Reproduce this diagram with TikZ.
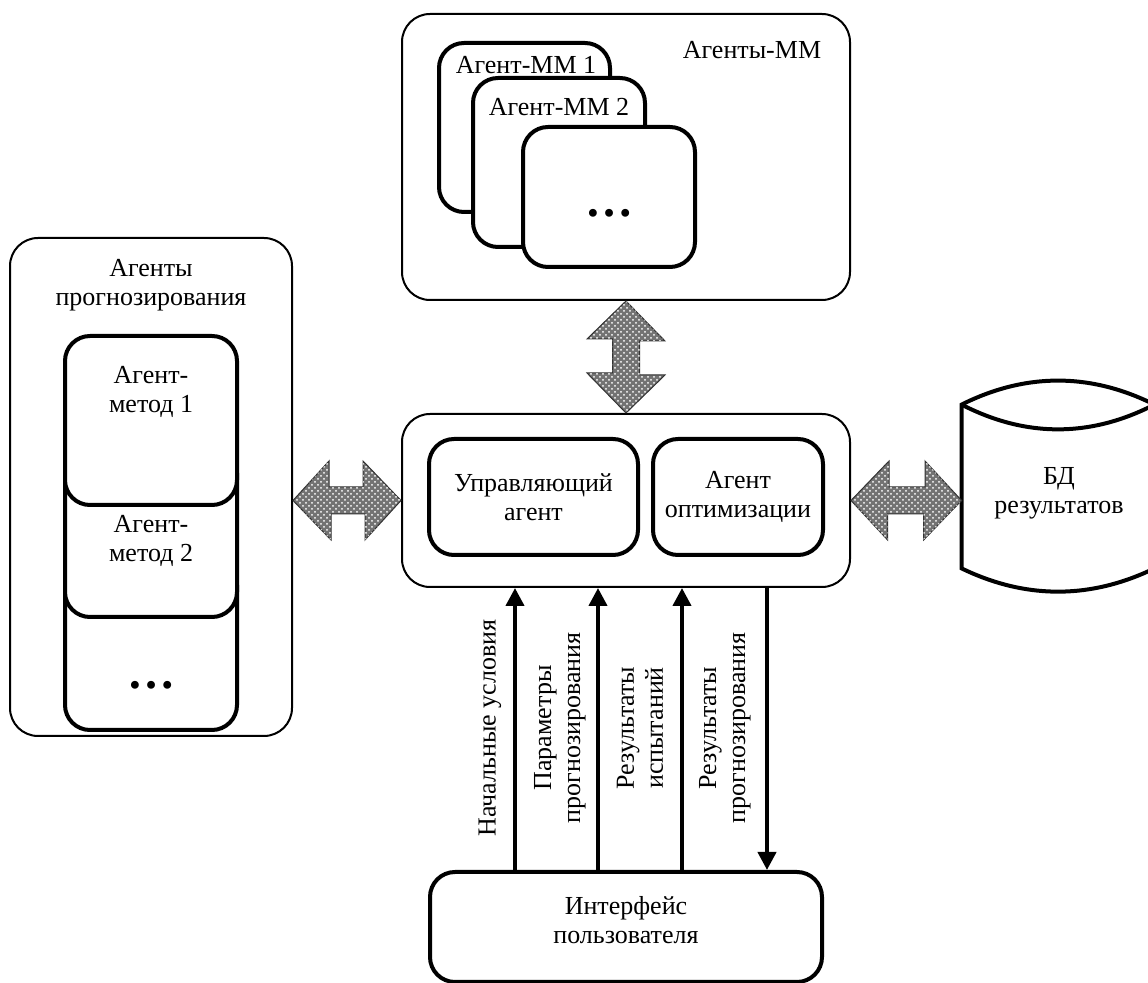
\documentclass[tikz,border=0pt]{standalone}
\usepackage{fontspec}
\setmainfont{Liberation Serif}
\usetikzlibrary{arrows.meta, patterns, calc}

\begin{document}
\begin{tikzpicture}[x=0.5pt, y=-0.5pt, font=\fontsize{13}{14.5}\selectfont,
    panel/.style={draw, line width=1pt, rounded corners=14pt},
    agent/.style={draw, line width=2pt, rounded corners=12.5pt, fill=white, align=center, inner sep=0pt},
    twin/.style={draw=black!80, line width=0.5pt, fill=black!55, postaction={pattern=crosshatch dots, pattern color=white}},
    flow/.style={line width=2pt, -{Triangle[width=9pt, length=9pt]}},
    vlabel/.style={rotate=90, align=center},
    dots/.style={font=\fontsize{24}{26}\selectfont\bfseries}]
  \useasboundingbox (0,0) rectangle (1148,983);

  \node[panel, minimum width=224pt, minimum height=143pt] (mm) at (626,157) {};
  \node (mmname) at (752,50) {Агенты-ММ};
  \node[agent, minimum width=85.5pt, minimum height=84.5pt] (mm1) at (524.5,127.5) {};
  \node (mm1name) at (526,65) {Агент-ММ 1};
  \node[agent, minimum width=86pt, minimum height=84.5pt] (mm2) at (559,162.5) {};
  \node (mm2name) at (559,107) {Агент-ММ 2};
  \node[agent, minimum width=86pt, minimum height=70pt] (mm3) at (609,197) {};
  \node[dots] (mm3name) at (609,213) {…};

  \node[panel, minimum width=141pt, minimum height=249pt] (pred) at (151,487) {};
  \node[align=center] (predname) at (151,285) {Агенты\\прогнозирования};
  \node[agent, minimum width=86pt, minimum height=85pt] (meth3) at (151,645) {};
  \node[dots] (meth3name) at (151,685) {…};
  \node[agent, minimum width=86pt, minimum height=84.5pt] (meth2) at (151,532.5) {};
  \node[align=center] (meth2name) at (151,541) {Агент-\\метод 2};
  \node[agent, minimum width=86pt, minimum height=84.5pt] (meth1) at (151,420.5) {};
  \node[align=center] (meth1name) at (151,392) {Агент-\\метод 1};

  \node[panel, minimum width=224pt, minimum height=86.5pt] (core) at (626,500.5) {};
  \node[agent, minimum width=104.5pt, minimum height=58pt] (ctrl) at (533.5,497) {Управляющий\\агент};
  \node[agent, minimum width=85pt, minimum height=58pt] (opt) at (738,497) {Агент\\оптимизации};

  \node[agent, minimum width=196pt, minimum height=55pt] (ui) at (626,927) {};
  \node[align=center] (uiname) at (626,920) {Интерфейс\\пользователя};

  \node[minimum width=96pt, minimum height=81.5pt] (db) at (1058,486.5) {};
  \draw[line width=2pt] (db.north west) .. controls ($(db.north west)+(64,-32)$) and ($(db.north east)+(-64,-32)$) .. (db.north east)
    -- (db.south east) .. controls ($(db.south east)+(-64,31)$) and ($(db.south west)+(64,31)$) .. (db.south west) -- cycle;
  \draw[line width=2pt] (db.north west) .. controls ($(db.north west)+(64,33)$) and ($(db.north east)+(-64,33)$) .. (db.north east);
  \node[align=center] (dbname) at (1059,493) {БД\\результатов};

  \draw[twin] (mm.south) -- ++(39,40) -- ++(-25.5,0) -- ++(0,34) -- ++(25.5,0) -- (core.north)
    -- ++(-39,-40) -- ++(25.5,0) -- ++(0,-34) -- ++(-25.5,0) -- cycle;
  \draw[twin] (core.west) -- ++(-38,-39.5) -- ++(0,26) -- ++(-34,0) -- ++(0,-26) -- (core.west -| pred.east)
    -- ++(38,39.5) -- ++(0,-26) -- ++(34,0) -- ++(0,26) -- cycle;
  \draw[twin] (core.east) -- ++(38,-39.5) -- ++(0,26) -- ++(36,0) -- ++(0,-26) -- (core.east -| db.west)
    -- ++(-38,39.5) -- ++(0,-26) -- ++(-36,0) -- ++(0,26) -- cycle;

  \coordinate (f1) at (515,0);
  \coordinate (f2) at (598,0);
  \coordinate (f3) at (682,0);
  \coordinate (f4) at (767,0);
  \foreach \f in {f1,f2,f3}
    \draw[flow] (\f |- ui.north) -- (\f |- core.south);
  \draw[flow] (f4 |- core.south) -- (f4 |- ui.north);

  \node[vlabel] (start) at (490,728) {Начальные условия};
  \node[vlabel] (params) at (560,728) {Параметры\\прогнозирования};
  \node[vlabel] (tests) at (640,728) {Результаты\\испытаний};
  \node[vlabel] (results) at (725,728) {Результаты\\прогнозирования};
\end{tikzpicture}
\end{document}
